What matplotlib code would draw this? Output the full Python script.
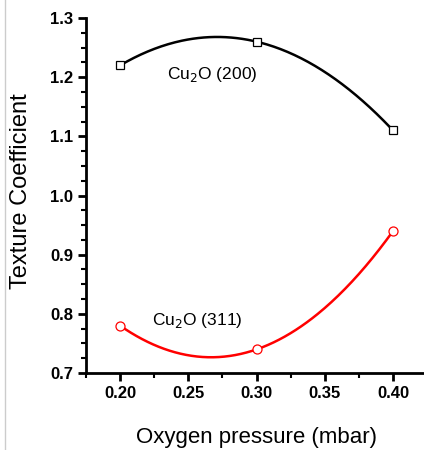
import numpy as np
import matplotlib
matplotlib.use("Agg")
import matplotlib.pyplot as plt
from matplotlib.lines import Line2D
from matplotlib.ticker import MultipleLocator

plt.rcParams['font.family'] = ['Liberation Sans', 'DejaVu Sans']

pressure = [0.20, 0.30, 0.40]
tc_200 = [1.22, 1.26, 1.11]
tc_311 = [0.78, 0.74, 0.94]

fig = plt.figure(figsize=(4.24, 4.5), dpi=100)
ax = fig.add_axes([0.203, 0.171, 0.797, 0.789])

# smooth curve through the three points (like Origin's spline)
xs = np.linspace(pressure[0], pressure[-1], 200)
for tc, col, mk in [(tc_200, 'black', 's'), (tc_311, 'red', 'o')]:
    c = np.polyfit(pressure, tc, 2)
    ax.plot(xs, np.polyval(c, xs), color=col, lw=1.8, zorder=2)
    ax.plot(pressure, tc, ls='none', marker=mk, ms=6 if mk == 's' else 6.5,
            mfc='white', mec=col, mew=0.9, zorder=3)

ax.text(0.2345, 1.205, 'Cu$_2$O (200)', fontsize=12.5, va='center')
ax.text(0.2234, 0.788, 'Cu$_2$O (311)', fontsize=12.5, va='center')

ax.set_xlim(0.175, 0.4227)
ax.set_ylim(0.7, 1.3)
ax.xaxis.set_major_locator(MultipleLocator(0.05))
ax.xaxis.set_minor_locator(MultipleLocator(0.025))
ax.yaxis.set_major_locator(MultipleLocator(0.1))
ax.yaxis.set_minor_locator(MultipleLocator(0.025))
ax.set_xticks([0.20, 0.25, 0.30, 0.35, 0.40])
ax.set_xticklabels(['0.20', '0.25', '0.30', '0.35', '0.40'])
ax.set_yticks([0.7, 0.8, 0.9, 1.0, 1.1, 1.2, 1.3])
ax.set_yticklabels(['0.7', '0.8', '0.9', '1.0', '1.1', '1.2', '1.3'])

for s in ['top', 'right']:
    ax.spines[s].set_visible(False)
for s in ['left', 'bottom']:
    ax.spines[s].set_linewidth(2)
ax.tick_params(which='major', direction='out', length=6, width=2, labelsize=12)
ax.tick_params(which='minor', direction='out', length=3.5, width=1.5)
for lab in ax.get_xticklabels() + ax.get_yticklabels():
    lab.set_fontweight('bold')

ax.set_xlabel('Oxygen pressure (mbar)', fontsize=16)
ax.set_ylabel('Texture Coefficient', fontsize=17)
ax.xaxis.set_label_coords(256 / 424, 13 / 450, transform=fig.transFigure)
ax.xaxis.label.set_va('center')
ax.yaxis.set_label_coords(21 / 424, 259 / 450, transform=fig.transFigure)
ax.yaxis.label.set_va('center')

# faint border line at the left of the scanned figure
fig.add_artist(Line2D([0.012, 0.012], [0.0, 1.0], color='#cccccc', lw=1))

fig.savefig('out.png', dpi=100)
